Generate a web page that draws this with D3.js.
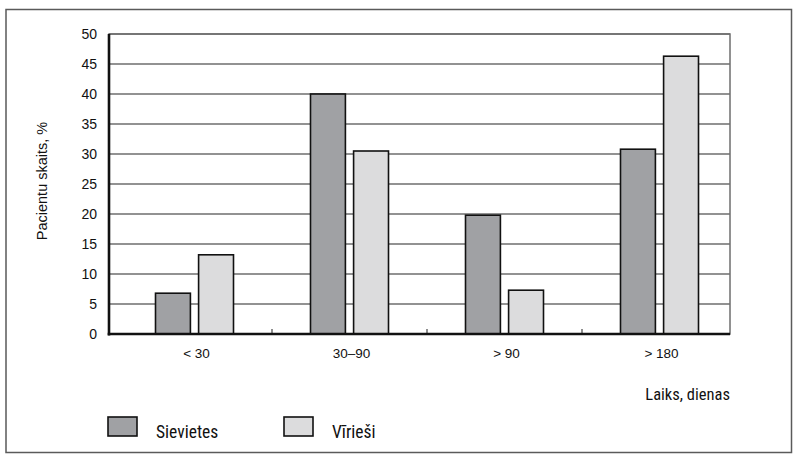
<!DOCTYPE html>
<html><head><meta charset="utf-8">
<script src="https://cdn.jsdelivr.net/npm/d3@7"></script>
<style>
body{margin:0;background:#fff;}
svg{display:block;}
.narrow{font-family:"Liberation Sans Narrow","Arial Narrow","Roboto Condensed","Liberation Sans",Arial,sans-serif;font-stretch:condensed;}
.reg{font-family:"Liberation Sans",Arial,sans-serif;}
</style></head>
<body>
<svg id="chart" width="800" height="467"></svg>
<script>
const categories = ["< 30", "30–90", "> 90", "> 180"];
const seriesNames = ["Sievietes", "Vīrieši"];
const sievietes = [6.8, 40, 19.8, 30.8];
const virtiesi = [13.2, 30.5, 7.3, 46.3];
const yTicks = [0, 5, 10, 15, 20, 25, 30, 35, 40, 45, 50];
const colors = ["#a0a1a4", "#dcdcdd"];

const svg = d3.select("#chart");
const plotL = 109, plotR = 730, plotT = 34, plotB = 334;

// outer frame
svg.append("rect").attr("x", 6).attr("y", 9.5).attr("width", 785.5).attr("height", 443)
  .attr("fill", "none").attr("stroke", "#5a5a5a").attr("stroke-width", 1.5);

const y = d3.scaleLinear().domain([0, 50]).range([plotB, plotT]);
const x = d3.scaleBand().domain(categories).range([117, 737]).paddingInner(0).paddingOuter(0);
const sub = d3.scaleBand().domain(seriesNames).range([38.5, 155 - 38.5]).paddingInner(0.19);

// plot box (gray)
svg.append("rect").attr("x", plotL).attr("y", plotT).attr("width", plotR - plotL).attr("height", plotB - plotT)
  .attr("fill", "none").attr("stroke", "#6e6e6e").attr("stroke-width", 1.5);

// gridlines
svg.append("g").selectAll("line").data(yTicks.filter(d => d > 0)).join("line")
  .attr("x1", plotL).attr("x2", plotR)
  .attr("y1", d => y(d)).attr("y2", d => y(d))
  .attr("stroke", "#6e6e6e").attr("stroke-width", 1.5);

// y axis labels
const yAxis = d3.axisLeft(y).tickValues(yTicks).tickSize(0).tickPadding(12);
const yg = svg.append("g").attr("transform", `translate(${plotL},0)`).call(yAxis);
yg.select(".domain").remove();
yg.selectAll("text").attr("class", "reg").attr("font-family", null).attr("font-size", 14).attr("fill", "#111");

// bars
const data = categories.map((c, i) => ({cat: c, vals: [sievietes[i], virtiesi[i]]}));
const groups = svg.append("g").selectAll("g").data(data).join("g")
  .attr("transform", d => `translate(${x(d.cat)},0)`);
groups.selectAll("rect").data(d => d.vals.map((v, j) => ({name: seriesNames[j], v, j}))).join("rect")
  .attr("x", d => sub(d.name)).attr("width", sub.bandwidth())
  .attr("y", d => y(d.v)).attr("height", d => y(0) - y(d.v))
  .attr("fill", d => colors[d.j]).attr("stroke", "#111").attr("stroke-width", 1.6);

// x axis tick marks (category boundaries)
svg.append("g").selectAll("line").data(categories.slice(1)).join("line")
  .attr("x1", d => x(d)).attr("x2", d => x(d))
  .attr("y1", plotB).attr("y2", plotB - 5)
  .attr("stroke", "#444").attr("stroke-width", 1.2);

// axes lines (black thick)
svg.append("line").attr("x1", plotL).attr("x2", plotL).attr("y1", plotT).attr("y2", plotB + 1.5)
  .attr("stroke", "#111").attr("stroke-width", 2.6);
svg.append("line").attr("x1", plotL - 1.3).attr("x2", plotR).attr("y1", plotB).attr("y2", plotB)
  .attr("stroke", "#111").attr("stroke-width", 2.6);

// x category labels
svg.append("g").selectAll("text").data(categories).join("text")
  .attr("class", "reg")
  .attr("x", d => x(d) + x.bandwidth() / 2 + 2).attr("y", 358)
  .attr("text-anchor", "middle")
  .attr("font-size", 13.5).attr("fill", "#111")
  .text(d => d);

// y axis title
svg.append("text").attr("class", "reg").attr("transform", "translate(47,181) rotate(-90)")
  .attr("text-anchor", "middle")
  .attr("font-size", 14.5).attr("fill", "#111")
  .text("Pacientu skaits, %");

// x axis title
svg.append("text").attr("class", "narrow").attr("x", 730).attr("y", 400)
  .attr("text-anchor", "end").attr("font-size", 16.5).attr("fill", "#111")
  .text("Laiks, dienas");

// legend
const legX = [108, 284];
const leg = svg.append("g").selectAll("g").data(seriesNames).join("g")
  .attr("transform", (d, i) => `translate(${legX[i]},417)`);
leg.append("rect").attr("width", 29).attr("height", 19)
  .attr("fill", (d, i) => colors[i]).attr("stroke", "#111").attr("stroke-width", 1.6);
leg.append("text").attr("class", "narrow").attr("x", 48).attr("y", 21)
  .attr("font-size", 17.5).attr("fill", "#111").text(d => d);
</script>
</body></html>
